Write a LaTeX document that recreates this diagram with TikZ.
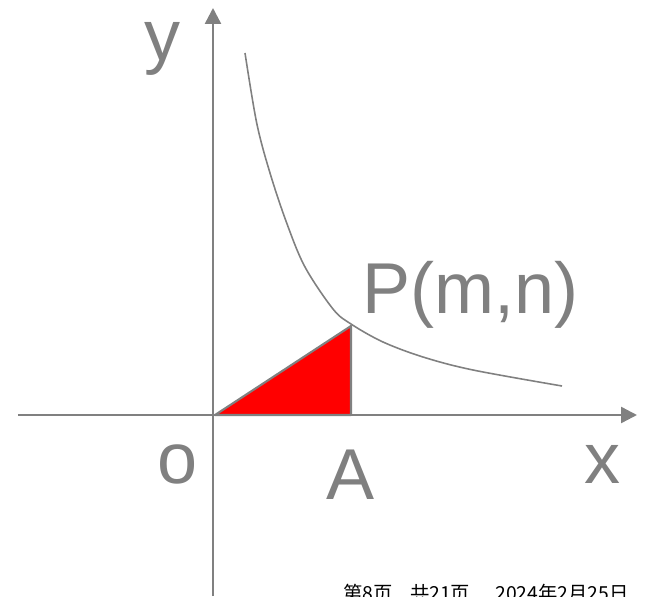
\documentclass[tikz,border=0pt]{standalone}
\usepackage{fontspec}
\setmainfont{Liberation Sans}
\newfontfamily\cjk{Noto Sans CJK SC}
\usetikzlibrary{arrows.meta, positioning, calc}
\usepackage{xcolor}
\definecolor{axisgray}{HTML}{808080}
\definecolor{areared}{HTML}{FF0000}

\begin{document}
\begin{tikzpicture}[
        x=0.02cm, y=0.02cm,
        >={Triangle[length=0.32cm, width=0.32cm]},
        axis/.style={->, color=axisgray, line width=1.4pt},
        biglabel/.style={color=axisgray, inner sep=0pt, font=\fontsize{41}{49}\selectfont},
      ]
        \useasboundingbox (-213,-181) rectangle (433,415);
        \coordinate (o) at (0,0);
        \coordinate (xs) at (-195,0);
        \coordinate (xe) at (424,0);
        \coordinate (ys) at (0,-181);
        \coordinate (ye) at (0,407);
        \coordinate (p) at (138,89);
        \coordinate (a) at (138,0);
        \draw[fill=areared, draw=axisgray, line width=1.2pt, line join=round] (2,0) -- (p) -- (a) -- cycle;
        \draw[axis] (xs) -- (xe);
        \draw[axis] (ys) -- (ye);
        \draw[color=axisgray, line width=0.9pt] plot[smooth, tension=0.55] coordinates {(32,362) (43.7,292) (57,242) (73.7,192) (92,148) (120,106) (138,91) (170,73) (210,58) (260,45) (349,29)};
        \node[biglabel, anchor=base] (ylab) at (-50,355) {y};
        \node[biglabel, anchor=base west] (plab) at (149,102) {P(m,n)};
        \node[biglabel, anchor=base] (olab) at (-35,-68) {o};
        \node[biglabel, anchor=base] (alab) at (138,-84) {A};
        \node[biglabel, anchor=base] (xlab) at (390,-68) {x};
        \node[anchor=base west, inner sep=0pt, font=\cjk\fontsize{11}{13}\selectfont] (page) at (130,-185) {第8页\hspace{0.9em}共21页\hspace{1.3em}2024年2月25日};
      \end{tikzpicture}
\end{document}
